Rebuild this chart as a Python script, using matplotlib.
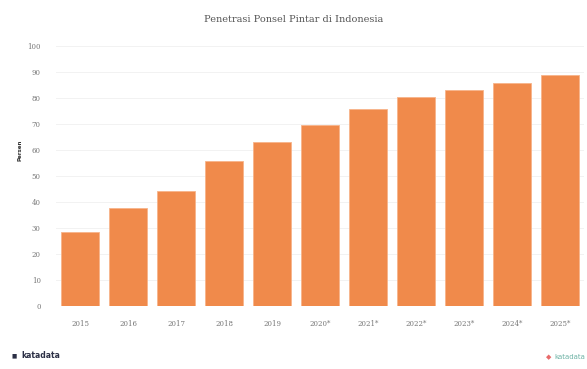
import matplotlib
matplotlib.use("Agg")
import matplotlib.pyplot as plt

years = ["2015", "2016", "2017", "2018", "2019", "2020*", "2021*", "2022*", "2023*", "2024*", "2025*"]
values = [28.5, 37.8, 44.1, 55.8, 63.0, 69.6, 75.8, 80.2, 83.0, 85.9, 88.8]
yticks = [0, 10, 20, 30, 40, 50, 60, 70, 80, 90, 100]

title = "Penetrasi Ponsel Pintar di Indonesia"
ylabel = "Persen"
bar_color = "#F08A4B"

fig = plt.figure(figsize=(5.87, 3.69), dpi=100)
ax = fig.add_axes([56/587, 1 - 306/369, 528/587, 260/369])

x = range(len(years))
ax.bar(x, values, width=0.81, color=bar_color, edgecolor="#F7B48A", linewidth=0.6, zorder=3)
ax.set_xlim(-0.5, len(years) - 0.5)
ax.set_ylim(0, 100)
ax.set_yticks(yticks)
ax.set_yticklabels([str(t) for t in yticks], fontsize=5, color="#777777", family="DejaVu Serif")
ax.set_xticks(list(x))
ax.set_xticklabels(years, fontsize=5, color="#777777", family="DejaVu Serif")
ax.tick_params(axis="both", length=0)
ax.tick_params(axis="y", pad=11)
ax.tick_params(axis="x", pad=10)
ax.grid(axis="y", color="#F2F2F2", linewidth=0.7, zorder=0)
for s in ax.spines.values():
    s.set_visible(False)

fig.text(0.5, 1 - 20/369, title, ha="center", va="center", fontsize=7, color="#555555", family="DejaVu Serif")
fig.text(20/587, 1 - 150/369, ylabel, ha="center", va="center", rotation=90, fontsize=4, color="#333333", fontweight="bold")

fig.text(21/587, 1 - 356/369, "katadata", ha="left", va="center", fontsize=5.5, color="#2B2F45", fontweight="bold")
fig.text(12/587, 1 - 356/369, "\u25A0", ha="left", va="center", fontsize=4, color="#2B2F45")
fig.text(585/587, 1 - 357/369, "katadata", ha="right", va="center", fontsize=5, color="#6FB3A6")
fig.text(551/587, 1 - 357/369, "\u25C6", ha="right", va="center", fontsize=5, color="#E86A6A")

fig.savefig("out.png", dpi=100)
